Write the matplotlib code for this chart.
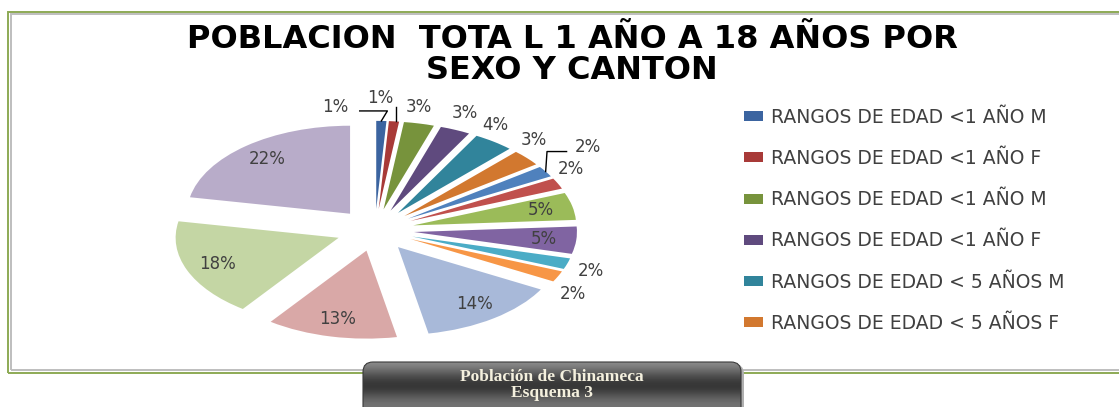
import numpy as np
import matplotlib
matplotlib.use("Agg")
import matplotlib.pyplot as plt
from matplotlib.patches import Rectangle, FancyBboxPatch

# --- datos ---
porcentajes = [1, 1, 3, 3, 4, 3, 2, 2, 5, 5, 2, 2, 14, 13, 18, 22]
leyenda = [
    "RANGOS DE EDAD <1 AÑO M",
    "RANGOS DE EDAD <1 AÑO F",
    "RANGOS DE EDAD <1 AÑO M",
    "RANGOS DE EDAD <1 AÑO F",
    "RANGOS DE EDAD < 5 AÑOS M",
    "RANGOS DE EDAD < 5 AÑOS F",
]
titulo = "POBLACION  TOTA L 1 AÑO A 18 AÑOS POR\nSEXO Y CANTON"
pie_caja = "Población de Chinameca\nEsquema 3"

colores = [
    "#3B64A0", "#A83A38", "#77933C", "#5F4A7E", "#31849B", "#D2782F",
    "#4F81BD", "#C0504D", "#9BBB59", "#8064A2", "#4BACC6", "#F79646",
    "#A8B9D9", "#D9A8A7", "#C4D6A4", "#B8ACC9",
]

W, H = 1119, 407
fig = plt.figure(figsize=(W / 100, H / 100), dpi=100)
fig.patch.set_facecolor("white")


def fx(x):
    return x / W


def fy(y):
    return 1 - y / H


# marco del gráfico (verde + gris), por debajo de los ejes
fig.add_artist(Rectangle((fx(8), fy(373)), fx(1130) - fx(8), fy(12) - fy(373),
                         transform=fig.transFigure, fill=False, zorder=-1,
                         edgecolor="#8DAA55", linewidth=1.4))
fig.add_artist(Rectangle((fx(11), fy(370)), fx(1130) - fx(11), fy(14) - fy(370),
                         transform=fig.transFigure, fill=False, zorder=-1,
                         edgecolor="#BEBEBE", linewidth=1.4))

# título
fig.text(fx(572), fy(55), titulo, ha="center", va="center",
         fontsize=23, fontweight="bold", family="DejaVu Sans",
         color="black", linespacing=0.98)

# --- pastel (elíptico) ---
cx, cy, rx, ry = 375, 230, 163, 88
lim = 1.6
ax = fig.add_axes([fx(cx - lim * rx), fy(cy + lim * ry),
                   2 * lim * rx / W, 2 * lim * ry / H])
wedges, _ = ax.pie(porcentajes, explode=[0.24] * len(porcentajes),
                   colors=colores, startangle=90, counterclock=False,
                   wedgeprops=dict(linewidth=0))
ax.set_aspect("auto")
ax.set_xlim(-lim, lim)
ax.set_ylim(-lim, lim)
ax.axis("off")

# ajustes de etiquetas externas: indice -> (radio, giro en grados)
ajustes = {0: (1.19, 14), 1: (1.26, 5), 3: (1.2, 1), 4: (1.16, 5), 5: (1.17, 6),
           6: (1.37, 4), 7: (1.15, 6), 10: (1.16, -1.5), 11: (1.18, -7)}
for i, (w, p) in enumerate(zip(wedges, porcentajes)):
    ang = (w.theta1 + w.theta2) / 2
    x0, y0 = w.center
    if p >= 5:
        r, d = 0.8, 0
    else:
        r, d = ajustes.get(i, (1.18, 2))
    a = np.radians(ang + d)
    lx, ly = x0 + r * np.cos(a), y0 + r * np.sin(a)
    ax.text(lx, ly, f"{p}%", ha="center", va="center", fontsize=12,
            color="#404040", family="DejaVu Sans")
    if i in (0, 1, 6):
        am = np.radians(ang)
        px, py = x0 + np.cos(am), y0 + np.sin(am)
        if i == 0:
            ax.plot([lx + 0.15, lx + 0.32, px], [ly - 0.05, ly - 0.05, py],
                    color="black", lw=1)
        elif i == 1:
            ax.plot([px + 0.01, px + 0.01], [py, ly - 0.1], color="black", lw=1)
        else:
            ax.plot([lx - 0.13, lx - 0.25, px], [ly - 0.05, ly - 0.05, py],
                    color="black", lw=1)

# leyenda
leg = fig.legend(wedges[:6], leyenda, loc="upper left",
                 bbox_to_anchor=(fx(744), fy(108)), frameon=False,
                 fontsize=13.5, handlelength=1.0, handleheight=0.45,
                 handletextpad=0.45, labelspacing=1.18, borderaxespad=0,
                 borderpad=0)
for t in leg.get_texts():
    t.set_color("#404040")

# caja inferior con degradado
bx0, bx1, by0 = 362, 742, 360
bw, bh = bx1 - bx0, H - by0
cax = fig.add_axes([fx(bx0), 0, (bw + 4) / W, bh / H])
cax.set_zorder(5)
cax.set_xlim(0, bw + 4)
cax.set_ylim(0, bh)
cax.axis("off")
sombra = FancyBboxPatch((4, -30), bw - 2, bh + 26,
                        boxstyle="round,pad=0,rounding_size=10",
                        facecolor="#b0b0b0", edgecolor="none", zorder=-1)
cax.add_patch(sombra)
caja = FancyBboxPatch((1, -30), bw - 2, bh + 28,
                      boxstyle="round,pad=0,rounding_size=10",
                      facecolor="none", edgecolor="#3a3a3a", linewidth=0.8,
                      zorder=2)
cax.add_patch(caja)
grad = np.array([0.55, 0.45, 0.33, 0.24, 0.2, 0.27, 0.38, 0.45])[:, None]
img = cax.imshow(grad, cmap="gray", vmin=0, vmax=1, aspect="auto", zorder=1,
                 extent=(0, bw, 0, bh), interpolation="bicubic")
img.set_clip_path(caja)
cax.text(bw / 2, bh / 2 - 1.5, pie_caja, ha="center", va="center", zorder=3,
         fontsize=12.5, fontweight="bold", family="Liberation Serif",
         color="#F4F0DE", linespacing=0.95)

fig.savefig("out.png", dpi=100, facecolor="white")
